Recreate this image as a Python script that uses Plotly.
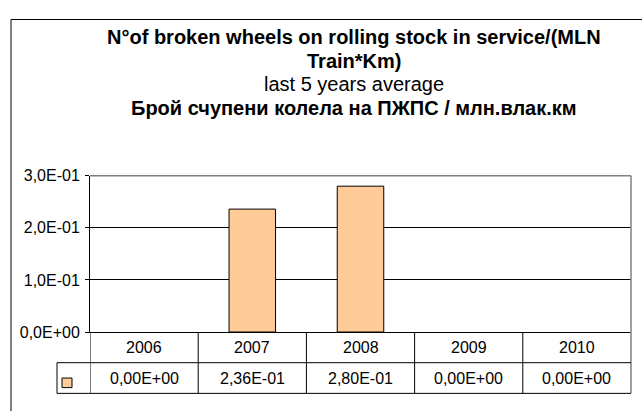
import plotly.graph_objects as go

# ---- data ----
years = ["2006", "2007", "2008", "2009", "2010"]
values = [0.0, 0.236, 0.280, 0.0, 0.0]
y_tick_vals = [0.0, 0.1, 0.2, 0.3]
title_line1 = "N°of broken wheels on rolling stock in service/(MLN"
title_line2 = "Train*Km)"
subtitle = "last 5 years average"
title_bg = "Брой счупени колела на ПЖПС / млн.влак.км"

W, H = 642, 411
FONT = "Liberation Sans, Arial, sans-serif"


def fmt_e(v, d):
    return f"{v:.{d}E}".replace(".", ",")


y_tick_text = [fmt_e(v, 1) for v in y_tick_vals]
value_text = [fmt_e(v, 2) for v in values]
bar_line_w = [1 if v > 0 else 0 for v in values]


def px(x):
    return x / W


def py(y):
    return (H - y) / H


plot_l, plot_r, plot_t, plot_b = 90, 631, 175, 338
row1_b, row2_b = 370, 402
key_l = 57

fig = go.Figure()
fig.add_trace(go.Bar(
    x=list(range(len(years))), y=values, width=0.43,
    marker=dict(color="#FFCC99", line=dict(color="#000000", width=bar_line_w)),
    showlegend=False, hoverinfo="skip",
))

shapes = []
# outer chart frame
shapes.append(dict(type="rect", xref="paper", yref="paper",
                   x0=px(11), x1=1.2, y0=-0.2, y1=py(12),
                   line=dict(color="#000000", width=1), layer="below"))
# plot area top & right borders (gray)
shapes.append(dict(type="line", xref="paper", yref="paper",
                   x0=px(plot_l), x1=px(plot_r), y0=py(plot_t), y1=py(plot_t),
                   line=dict(color="#808080", width=1.5)))
shapes.append(dict(type="line", xref="paper", yref="paper",
                   x0=px(plot_r), x1=px(plot_r), y0=py(plot_t), y1=py(row2_b),
                   line=dict(color="#808080", width=1.5)))
# table horizontal lines
for yy in (row1_b, row2_b):
    shapes.append(dict(type="line", xref="paper", yref="paper",
                       x0=px(key_l), x1=px(plot_r), y0=py(yy), y1=py(yy),
                       line=dict(color="#000000", width=1)))
# table vertical lines at category boundaries
n = len(years)
for i in range(n):
    shapes.append(dict(type="line", xref="x", yref="paper",
                       x0=i - 0.5, x1=i - 0.5, y0=py(plot_b), y1=py(row2_b),
                       line=dict(color="#000000", width=1)))
# legend-key column left border
shapes.append(dict(type="line", xref="paper", yref="paper",
                   x0=px(key_l), x1=px(key_l), y0=py(row1_b), y1=py(row2_b),
                   line=dict(color="#000000", width=1)))
# legend key square
shapes.append(dict(type="rect", xref="paper", yref="paper",
                   x0=px(62), x1=px(72), y0=py(396), y1=py(386),
                   fillcolor="#FFCC99", line=dict(color="#000000", width=1)))

annotations = []
for i, yr in enumerate(years):
    annotations.append(dict(x=i, xref="x", y=py((plot_b + row1_b) / 2), yref="paper",
                            text=yr, showarrow=False, xanchor="center", yanchor="middle",
                            font=dict(family=FONT, size=16, color="#000000")))
    annotations.append(dict(x=i, xref="x", y=py((row1_b + row2_b) / 2), yref="paper",
                            text=value_text[i], showarrow=False, xanchor="center", yanchor="middle",
                            font=dict(family=FONT, size=16, color="#000000")))

title_lines = [("<b>" + title_line1 + "</b>", 30.5), ("<b>" + title_line2 + "</b>", 55),
               (subtitle, 79.5), ("<b>" + title_bg + "</b>", 104)]
for txt, yy in title_lines:
    annotations.append(dict(x=px(354), xref="paper", y=py(yy), yref="paper",
                            text=txt, showarrow=False, xanchor="center", yanchor="middle",
                            font=dict(family=FONT, size=20, color="#000000")))

fig.update_layout(
    width=W, height=H,
    margin=dict(l=0, r=0, t=0, b=0),
    paper_bgcolor="#FFFFFF", plot_bgcolor="#FFFFFF",
    shapes=shapes, annotations=annotations,
    xaxis=dict(domain=[px(plot_l), px(plot_r)], range=[-0.5, n - 0.5],
               showticklabels=False, ticks="",
               showgrid=False, zeroline=False, showline=True,
               linecolor="#000000", linewidth=1, fixedrange=True),
    yaxis=dict(domain=[py(plot_b), py(plot_t)], range=[0, 0.3],
               tickvals=y_tick_vals, ticktext=y_tick_text,
               ticks="outside", ticklen=4, tickcolor="#000000",
               ticklabelstandoff=2,
               tickfont=dict(family=FONT, size=16, color="#000000"),
               showgrid=True, gridcolor="#000000", gridwidth=1,
               zeroline=False, showline=True, linecolor="#000000", linewidth=1,
               fixedrange=True),
)

fig.write_html("out.html", config={"displayModeBar": False},
               post_script="document.body.style.margin='0';document.body.style.overflow='hidden';")
